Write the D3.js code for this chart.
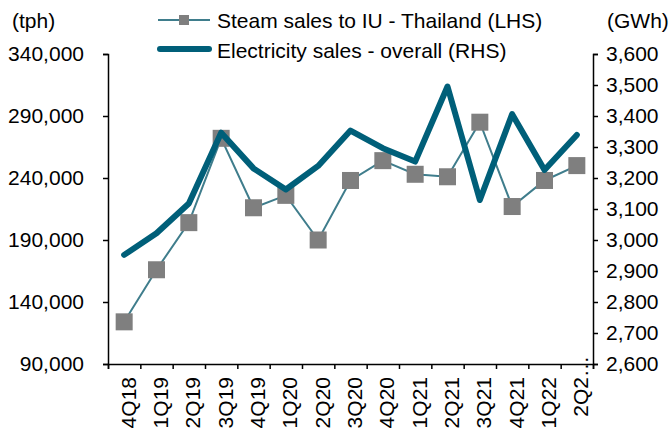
<!DOCTYPE html>
<html>
<head>
<meta charset="utf-8">
<script src="https://cdn.jsdelivr.net/npm/d3@7"></script>
<style>
  body { margin: 0; background: #fff; }
  text { font-family: "Liberation Sans", Arial, sans-serif; fill: #000; }
</style>
</head>
<body>
<div id="chart"></div>
<script>
// quarters on the x axis
var categories = ["4Q18","1Q19","2Q19","3Q19","4Q19","1Q20","2Q20","3Q20","4Q20","1Q21","2Q21","3Q21","4Q21","1Q22","2Q22"];
// steam sales to IU - Thailand, tph (left axis)
var steam = [124000,166000,204000,272000,216000,226000,190000,238000,254000,243000,241000,285000,217000,238000,250000];
// electricity sales overall, GWh (right axis)
var electricity = [2952,3022,3118,3346,3231,3163,3239,3353,3296,3253,3495,3129,3406,3226,3339];

var leftTicks = [90000,140000,190000,240000,290000,340000];
var rightTicks = [2600,2700,2800,2900,3000,3100,3200,3300,3400,3500,3600];

var width = 672, height = 428;
var plotLeft = 108, plotRight = 593, plotTop = 54, plotBottom = 364;
var fs = 21;

var steamColor = "#3f7d8c";
var elecColor = "#005f79";
var markColor = "#7f7f7f";

var svg = d3.select("#chart").append("svg")
  .attr("width", width)
  .attr("height", height);

var x = d3.scaleBand().domain(categories).range([plotLeft, plotRight]).padding(0);
var xb = d3.scaleLinear().domain([0, categories.length]).range([plotLeft, plotRight]);
var yL = d3.scaleLinear().domain([90000, 340000]).range([plotBottom, plotTop]);
var yR = d3.scaleLinear().domain([2600, 3600]).range([plotBottom, plotTop]);

function cx(d) { return x(d) + x.bandwidth() / 2; }

// axes
var axL = svg.append("g").attr("transform", "translate(" + plotLeft + ",0)")
  .call(d3.axisLeft(yL).tickValues(leftTicks).tickFormat(d3.format(",")).tickSizeOuter(0).tickSize(5).tickPadding(19));
var axR = svg.append("g").attr("transform", "translate(" + plotRight + ",0)")
  .call(d3.axisRight(yR).tickValues(rightTicks).tickFormat(d3.format(",")).tickSizeOuter(0).tickSize(5).tickPadding(8));
var axB = svg.append("g").attr("transform", "translate(0," + plotBottom + ")")
  .call(d3.axisBottom(xb).tickValues(d3.range(0, categories.length + 1)).tickFormat("").tickSizeOuter(0).tickSize(5));

// category labels, rotated
var axLab = svg.append("g").attr("transform", "translate(0," + plotBottom + ")")
  .call(d3.axisBottom(x).tickSize(0).tickFormat(function(d, i) {
    return i == categories.length - 1 ? d.slice(0, 3) + "\u2026" : d;
  }));
axLab.select(".domain").remove();
axLab.selectAll("text")
  .attr("transform", "rotate(-90)")
  .attr("y", 0)
  .attr("x", function(d, i) { return i == categories.length - 1 ? -13 + fs : -13; })
  .attr("dy", "0.55em")
  .style("text-anchor", "end");

[axL, axR, axB, axLab].forEach(function(a) {
  a.selectAll("text").style("font-size", fs + "px").style("font-family", "'Liberation Sans', Arial, sans-serif").attr("fill", "#000");
  a.selectAll("path, line").attr("stroke", "#000").attr("stroke-width", 1.5);
});

// steam line + markers
var lineL = d3.line().x(function(d, i) { return cx(categories[i]); }).y(function(d) { return yL(d); });
svg.append("path").datum(steam)
  .attr("d", lineL)
  .attr("fill", "none")
  .attr("stroke", steamColor)
  .attr("stroke-width", 2);
var ms = 17;
svg.selectAll(".mk").data(steam).enter().append("rect")
  .attr("class", "mk")
  .attr("x", function(d, i) { return cx(categories[i]) - ms / 2; })
  .attr("y", function(d) { return yL(d) - ms / 2; })
  .attr("width", ms).attr("height", ms)
  .attr("fill", markColor);

// electricity line
var lineR = d3.line().x(function(d, i) { return cx(categories[i]); }).y(function(d) { return yR(d); });
svg.append("path").datum(electricity)
  .attr("d", lineR)
  .attr("fill", "none")
  .attr("stroke", elecColor)
  .attr("stroke-width", 6)
  .attr("stroke-linejoin", "round")
  .attr("stroke-linecap", "round");

// unit labels
svg.append("text").attr("x", 12).attr("y", 28).style("font-size", fs + "px").text("(tph)");
svg.append("text").attr("x", 607).attr("y", 28).style("font-size", fs + "px").text("(GWh)");

// legend
var lg = svg.append("g");
lg.append("line").attr("x1", 158).attr("x2", 210).attr("y1", 20).attr("y2", 20)
  .attr("stroke", steamColor).attr("stroke-width", 2);
lg.append("rect").attr("x", 179).attr("y", 15).attr("width", 10).attr("height", 10).attr("fill", markColor);
lg.append("text").attr("x", 217).attr("y", 28).style("font-size", fs + "px").text("Steam sales to IU - Thailand (LHS)");
lg.append("line").attr("x1", 160).attr("x2", 209).attr("y1", 49).attr("y2", 49)
  .attr("stroke", elecColor).attr("stroke-width", 6).attr("stroke-linecap", "round");
lg.append("text").attr("x", 217).attr("y", 58).style("font-size", fs + "px").text("Electricity sales - overall (RHS)");
</script>
</body>
</html>
